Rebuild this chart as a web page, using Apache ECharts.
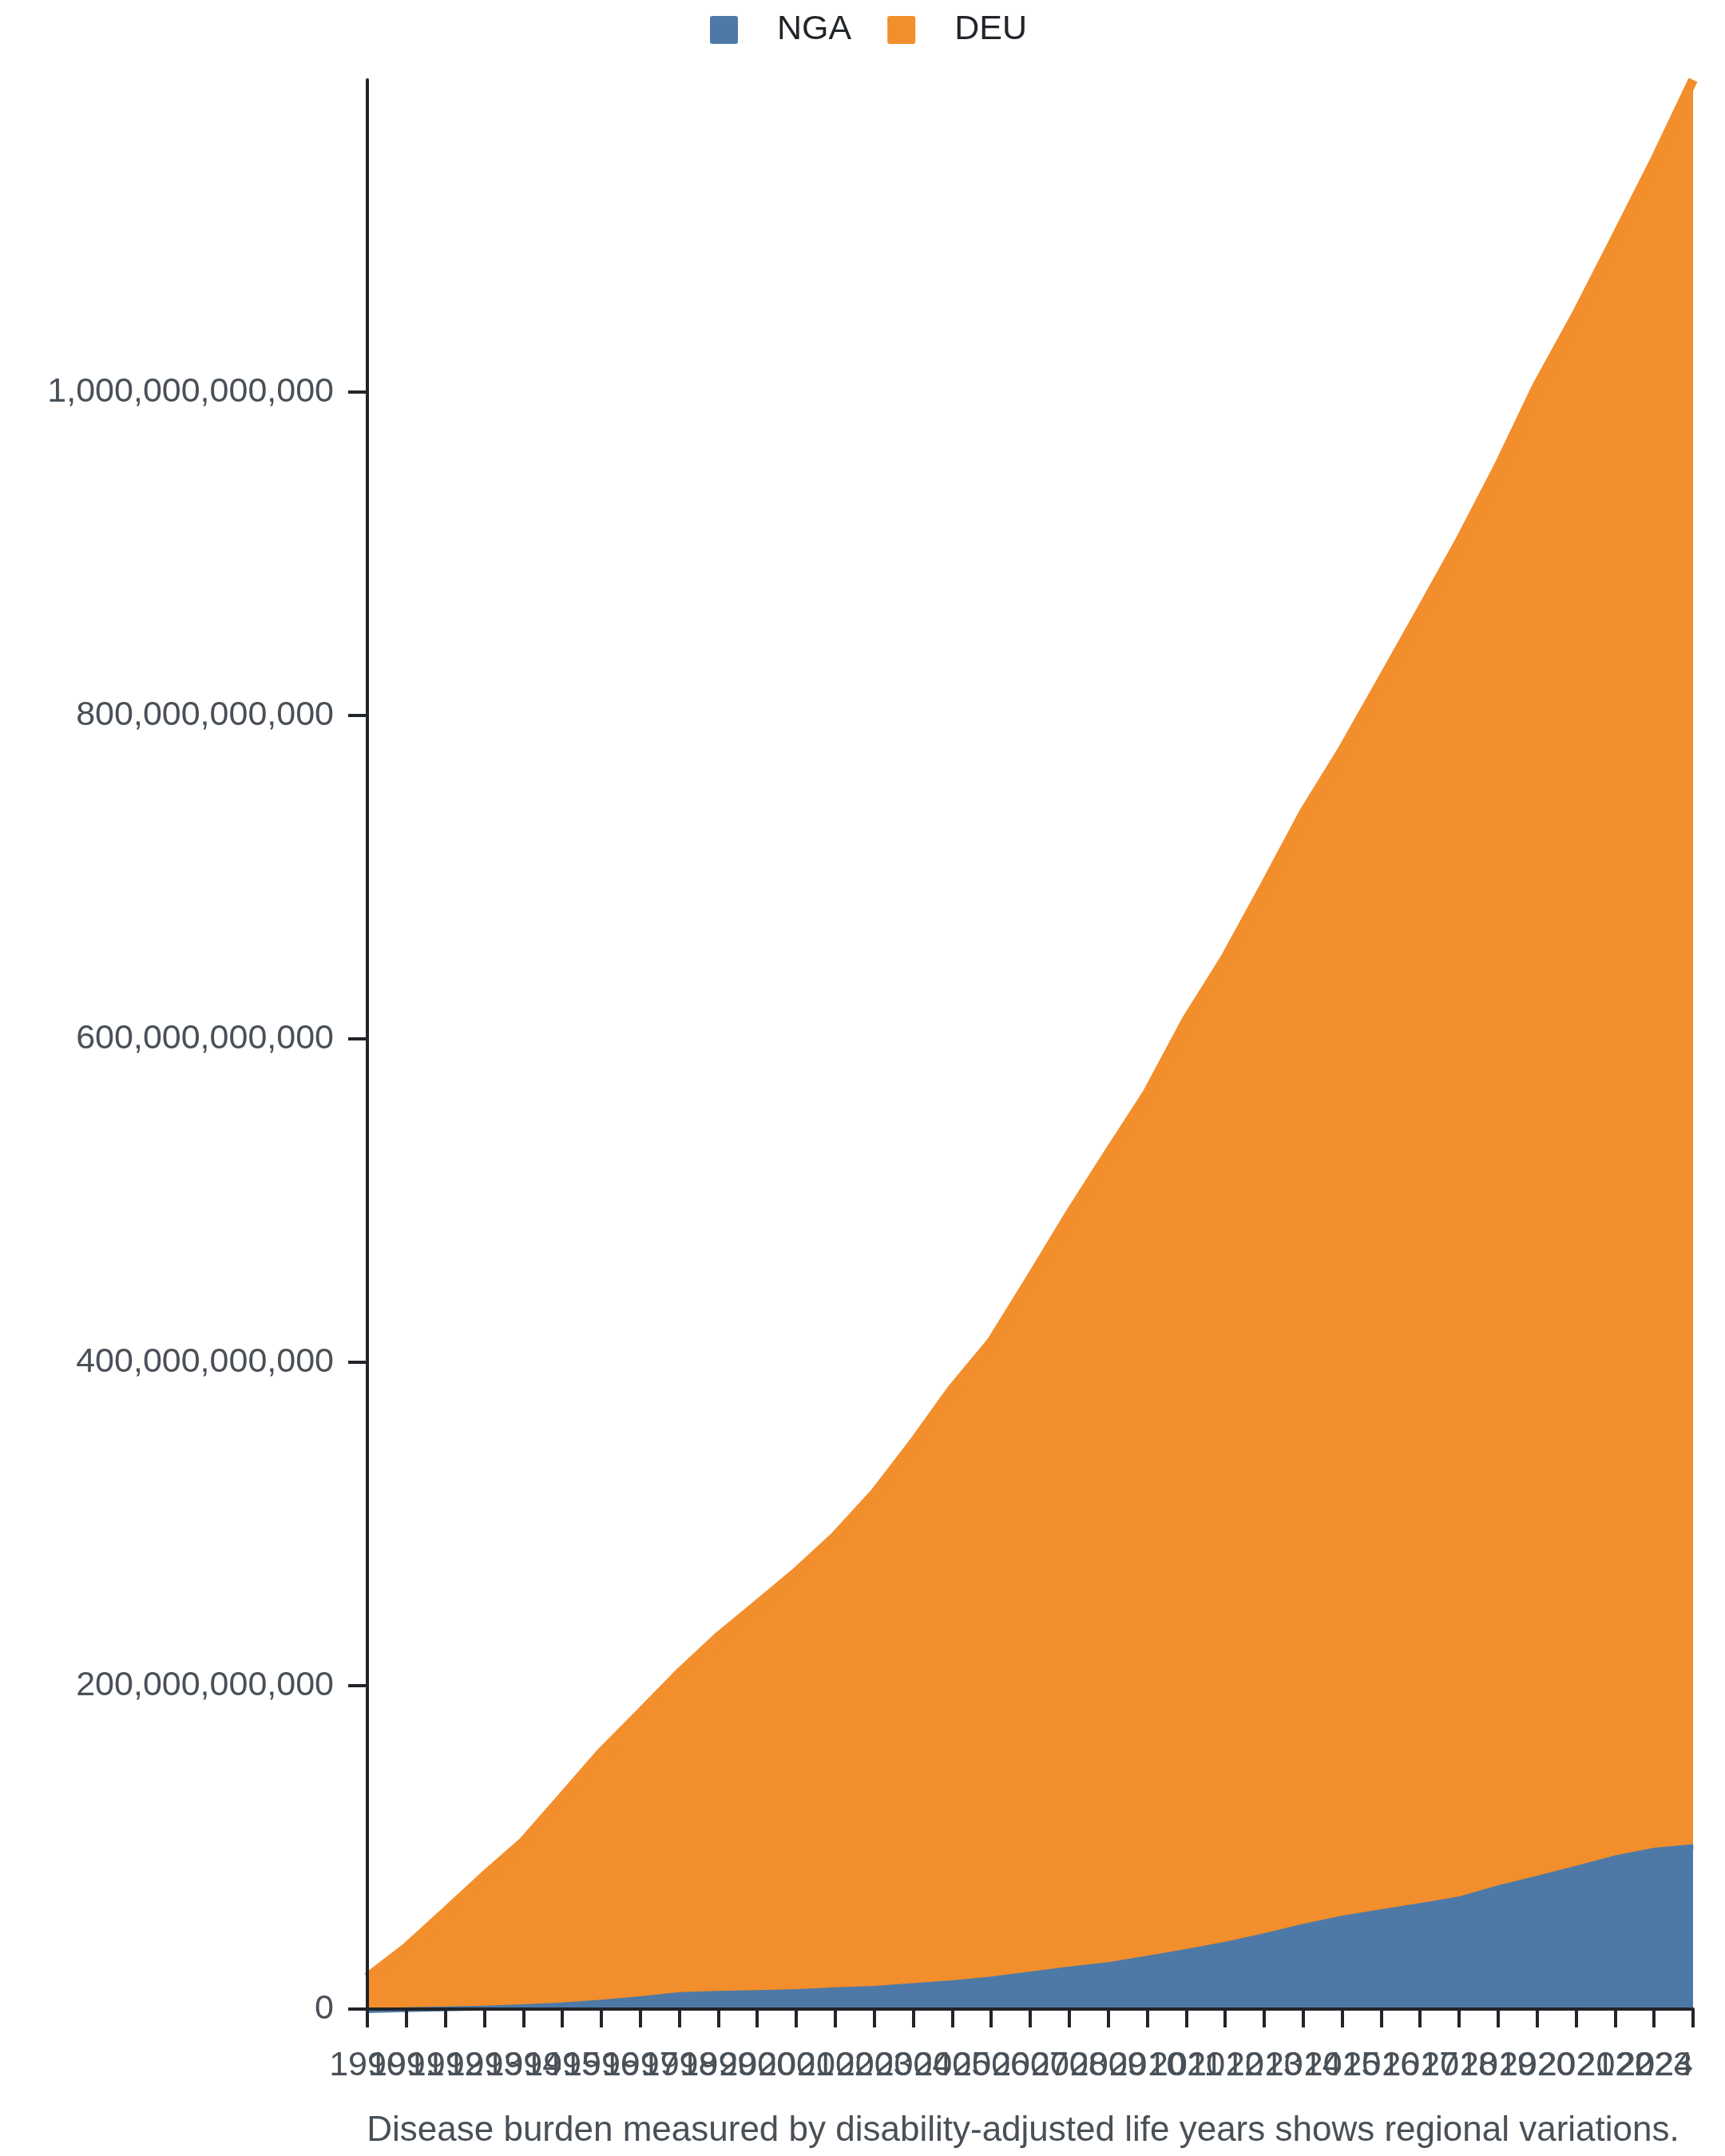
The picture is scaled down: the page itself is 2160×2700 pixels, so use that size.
<!DOCTYPE html>
<html>
<head>
<meta charset="utf-8">
<title>Disease burden NGA vs DEU</title>
<script src="https://cdn.jsdelivr.net/npm/echarts@6/dist/echarts.min.js"></script>
<style>
  html, body { margin: 0; padding: 0; background: #ffffff; }
  #chart { width: 2160px; height: 2700px; }
</style>
</head>
<body>
<div id="chart"></div>
<script>
// years on the x axis
var years = ['1990', '1991', '1992', '1993', '1994', '1995', '1996', '1997', '1998', '1999',
  '2000', '2001', '2002', '2003', '2004', '2005', '2006', '2007', '2008', '2009',
  '2010', '2011', '2012', '2013', '2014', '2015', '2016', '2017', '2018', '2019',
  '2020', '2021', '2022', '2023', '2024'];

// NGA (bottom layer of the stack)
var ngaValues = [0.5e9, 1.1e9, 1.6e9, 2.1e9, 3.0e9, 4.1e9, 5.8e9, 7.9e9, 10.5e9, 11.2e9,
  11.7e9, 12.3e9, 13.5e9, 14.3e9, 16.0e9, 17.8e9, 20.1e9, 23.2e9, 26.3e9, 29.0e9,
  32.9e9, 37.2e9, 41.6e9, 46.9e9, 52.7e9, 57.8e9, 61.7e9, 65.5e9, 69.6e9, 76.5e9,
  82.5e9, 88.6e9, 95.1e9, 99.7e9, 102.0e9];

// DEU (stacked on top of NGA)
var deuValues = [19.0e9, 36.9e9, 58.4e9, 80.2e9, 100.5e9, 126.9e9, 152.8e9, 175.1e9, 197.2e9, 219.0e9,
  238.3e9, 257.9e9, 278.9e9, 304.4e9, 334.0e9, 365.7e9, 392.4e9, 428.2e9, 464.9e9, 500.0e9,
  533.3e9, 574.1e9, 608.3e9, 647.1e9, 686.5e9, 720.6e9, 759.3e9, 798.3e9, 837.5e9, 877.0e9,
  921.3e9, 959.0e9, 999.7e9, 1042.7e9, 1091.0e9];

// y axis ticks
var yTicks = [0, 200e9, 400e9, 600e9, 800e9, 1000e9];
var yMax = 1193e9;

var caption = 'Disease burden measured by disability-adjusted life years shows regional variations.';

var font = '"Liberation Sans", Arial, Helvetica, sans-serif';
var axisColor = '#212529';
var labelColor = '#495057';
var blue = '#4e79a7';
var orange = '#f28e2b';

var dom = document.getElementById('chart');
var myChart = echarts.init(dom, null, { renderer: 'canvas', devicePixelRatio: 1 });

var option = {
    animation: false,
    backgroundColor: '#ffffff',
    textStyle: { fontFamily: font },
    legend: {
        data: ['NGA', 'DEU'],
        left: 884,
        top: 11,
        itemWidth: 35,
        itemHeight: 35,
        itemGap: 45,
        icon: 'path://M3,0H32A3,3,0,0,1,35,3V32A3,3,0,0,1,32,35H3A3,3,0,0,1,0,32V3A3,3,0,0,1,3,0Z',
        textStyle: {
            fontFamily: font,
            fontSize: 43,
            color: '#212529',
            padding: [0, 0, 0, 44]
        }
    },
    grid: {
        left: 460,
        right: 40,
        top: 100,
        bottom: 184,
        containLabel: false,
        outerBoundsMode: 'none'
    },
    xAxis: {
        type: 'category',
        data: years,
        boundaryGap: false,
        z: 10,
        axisLine: { lineStyle: { color: axisColor, width: 4 } },
        axisTick: {
            interval: 0,
            length: 23,
            lineStyle: { color: axisColor, width: 4 }
        },
        axisLabel: {
            interval: 0,
            margin: 50,
            fontSize: 43,
            fontFamily: font,
            color: labelColor,
            hideOverlap: false,
            alignMaxLabel: 'right'
        },
        splitLine: { show: false }
    },
    yAxis: {
        type: 'value',
        min: 0,
        max: yMax,
        interval: 200e9,
        z: 10,
        axisLine: { show: true, lineStyle: { color: axisColor, width: 4 } },
        axisTick: {
            show: true,
            length: 24,
            customValues: yTicks,
            lineStyle: { color: axisColor, width: 4 }
        },
        axisLabel: {
            margin: 42,
            fontSize: 43,
            fontFamily: font,
            color: labelColor,
            customValues: yTicks,
            formatter: function (v) {
                return Number(v).toLocaleString('en-US');
            }
        },
        splitLine: { show: false }
    },
    series: [
        {
            name: 'NGA',
            type: 'line',
            stack: 'total',
            z: 1,
            data: ngaValues,
            showSymbol: false,
            clip: false,
            color: blue,
            lineStyle: { color: blue, width: 12, cap: 'butt' },
            areaStyle: { color: blue, opacity: 1 }
        },
        {
            name: 'DEU',
            type: 'line',
            stack: 'total',
            z: 2,
            data: deuValues,
            showSymbol: false,
            clip: false,
            color: orange,
            lineStyle: { color: orange, width: 12, cap: 'butt' },
            areaStyle: { color: orange, opacity: 1 }
        }
    ],
    graphic: [
        {
            type: 'text',
            x: 1281,
            y: 2669,
            style: {
                text: caption,
                fontSize: 44,
                fontFamily: font,
                fill: labelColor,
                align: 'center',
                verticalAlign: 'middle'
            }
        }
    ]
};

if (option && typeof option === 'object') {
    myChart.setOption(option, true);
}
</script>
</body>
</html>
